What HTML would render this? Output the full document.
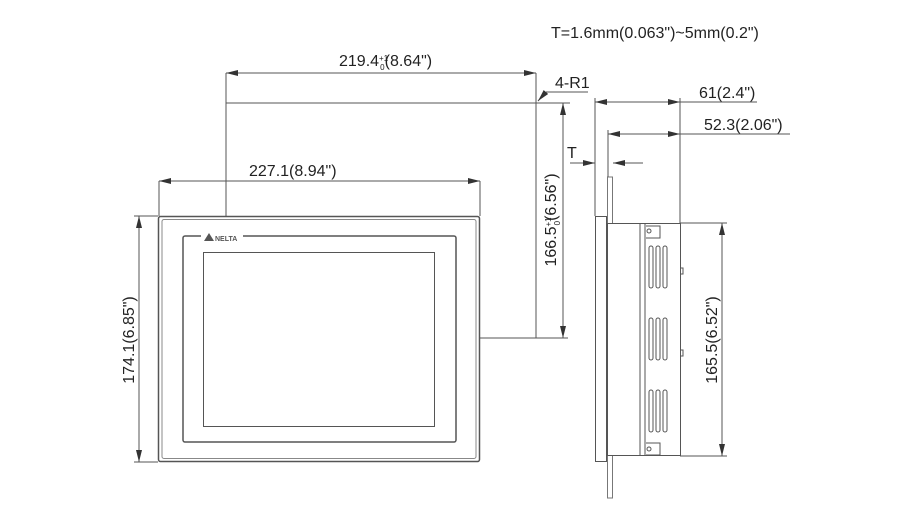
<!DOCTYPE html>
<html><head><style>
body{margin:0;background:#fff;}
svg{display:block;font-family:"Liberation Sans",Arial,sans-serif;}
text{fill:#222;font-size:16px;}
</style></head><body>
<svg width="903" height="513" viewBox="0 0 903 513" xmlns="http://www.w3.org/2000/svg">
<defs>
<marker id="a" viewBox="0 0 12 6" refX="12" refY="3" markerWidth="12" markerHeight="6" orient="auto-start-reverse" markerUnits="userSpaceOnUse"><path d="M0,0 L12,3 L0,6z" fill="#333"/></marker>
</defs>
<g stroke="#555" stroke-width="1" fill="none">
<line x1="226" y1="73" x2="536" y2="73" marker-start="url(#a)" marker-end="url(#a)"/>
<line x1="226" y1="73" x2="226" y2="216"/>
<line x1="536" y1="73" x2="536" y2="338"/>
<line x1="226" y1="103" x2="570" y2="103"/>
<polyline points="538,101 546,92 588,92" marker-start="url(#a)"/>
<line x1="563" y1="103" x2="563" y2="338" marker-start="url(#a)" marker-end="url(#a)"/>
<line x1="480" y1="338" x2="568" y2="338"/>
<line x1="159" y1="181" x2="480" y2="181" marker-start="url(#a)" marker-end="url(#a)"/>
<line x1="159" y1="181" x2="159" y2="216"/>
<line x1="480" y1="181" x2="480" y2="216"/>
<line x1="139" y1="216" x2="139" y2="462" marker-start="url(#a)" marker-end="url(#a)"/>
<line x1="134" y1="216" x2="158" y2="216"/>
<line x1="134" y1="462" x2="158" y2="462"/>
</g>
<g fill="none" stroke="#555">
<rect x="158.5" y="216.5" width="321" height="245" rx="2" stroke-width="1.5"/>
<rect x="162" y="219.5" width="314" height="239" rx="2" stroke="#888" stroke-width="1"/>
<rect x="183" y="236" width="273" height="206" rx="2" stroke-width="1.5"/>
<rect x="203.5" y="252.5" width="231" height="174" stroke-width="1"/>
</g>
<rect x="201" y="232" width="42" height="8" fill="#fff"/>
<path d="M209,233 L214,241 L204,241z" fill="#555"/>
<text x="215" y="241" style="font-size:7px;font-weight:bold;fill:#555">NELTA</text>
<g fill="none" stroke="#555" stroke-width="1">
<rect x="595.5" y="216.5" width="11" height="245"/>
<rect x="607.5" y="177" width="5" height="321" stroke="#777"/>
<rect x="607.5" y="223.5" width="73" height="232" fill="#fff"/>
<line x1="640" y1="224" x2="640" y2="455"/>
<line x1="645" y1="224" x2="645" y2="455"/>
<path d="M646,226 h14 v12 h-14 M646,443 h14 v12 h-14"/>
<circle cx="649" cy="231" r="2"/><circle cx="649" cy="449" r="2"/>
<path d="M680,268 h3 v6 h-3 M680,350 h3 v6 h-3"/>
<rect x="649" y="246" width="4" height="42" rx="2"/><rect x="656" y="246" width="4" height="42" rx="2"/><rect x="663" y="246" width="4" height="42" rx="2"/>
<rect x="649" y="318" width="4" height="42" rx="2"/><rect x="656" y="318" width="4" height="42" rx="2"/><rect x="663" y="318" width="4" height="42" rx="2"/>
<rect x="649" y="390" width="4" height="42" rx="2"/><rect x="656" y="390" width="4" height="42" rx="2"/><rect x="663" y="390" width="4" height="42" rx="2"/>
<line x1="595" y1="102" x2="680" y2="102" marker-start="url(#a)" marker-end="url(#a)"/>
<line x1="680" y1="102" x2="757" y2="102"/>
<line x1="595" y1="98" x2="595" y2="216"/>
<line x1="680" y1="98" x2="680" y2="223"/>
<line x1="608" y1="134" x2="680" y2="134" marker-start="url(#a)" marker-end="url(#a)"/>
<line x1="680" y1="134" x2="790" y2="134"/>
<line x1="608" y1="130" x2="608" y2="177"/>
<line x1="570" y1="163" x2="595" y2="163" marker-end="url(#a)"/>
<line x1="643" y1="163" x2="613" y2="163" marker-end="url(#a)"/>
<line x1="722" y1="223" x2="722" y2="456" marker-start="url(#a)" marker-end="url(#a)"/>
<line x1="680" y1="223" x2="727" y2="223"/>
<line x1="680" y1="456" x2="727" y2="456"/>
</g>
<text x="551" y="38">T=1.6mm(0.063")~5mm(0.2")</text>
<text x="339" y="66">219.4<tspan dy="-5" style="font-size:8px">+1</tspan><tspan dx="-8" dy="9" style="font-size:8px">0</tspan><tspan dy="-4">(8.64")</tspan></text>
<text x="555" y="88">4-R1</text>
<text x="249" y="176">227.1(8.94")</text>
<text x="567" y="158">T</text>
<text x="699" y="98">61(2.4")</text>
<text x="704" y="130">52.3(2.06")</text>
<text transform="translate(134,340) rotate(-90)" text-anchor="middle">174.1(6.85")</text>
<text transform="translate(556,220) rotate(-90)" text-anchor="middle">166.5<tspan dy="-5" style="font-size:8px">+1</tspan><tspan dx="-8" dy="9" style="font-size:8px">0</tspan><tspan dy="-4">(6.56")</tspan></text>
<text transform="translate(717,340) rotate(-90)" text-anchor="middle">165.5(6.52")</text>
</svg>
</body></html>
